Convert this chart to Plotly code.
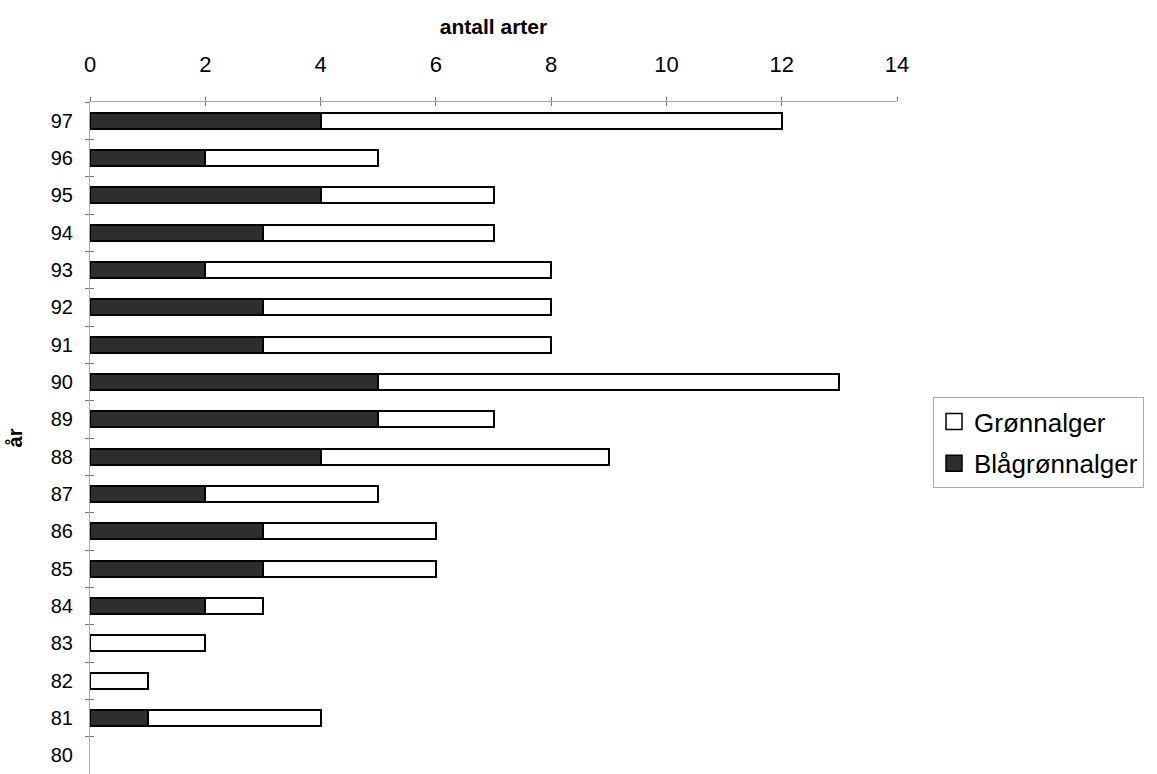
import plotly.graph_objects as go

years = ["80", "81", "82", "83", "84", "85", "86", "87", "88", "89",
         "90", "91", "92", "93", "94", "95", "96", "97"]
blagronn = [0, 1, 0, 0, 2, 3, 3, 2, 4, 5, 5, 3, 3, 2, 3, 4, 2, 4]
gronn = [0, 3, 1, 2, 1, 3, 3, 3, 5, 2, 8, 5, 5, 6, 4, 3, 3, 8]
x_ticks = [0, 2, 4, 6, 8, 10, 12, 14]

FONT = "Liberation Sans, Arial, sans-serif"
DARK = "#2e2e2e"


def outline(vals):
    # no outline for empty (zero-length) bars
    return [0 if v == 0 else 2 for v in vals]


fig = go.Figure()
fig.add_trace(go.Bar(
    y=years, x=blagronn, name="Blågrønnalger", orientation="h",
    marker=dict(color=DARK, line=dict(color="#000000", width=outline(blagronn))),
    showlegend=False,
))
fig.add_trace(go.Bar(
    y=years, x=gronn, name="Grønnalger", orientation="h",
    marker=dict(color="#ffffff", line=dict(color="#000000", width=outline(gronn))),
    showlegend=False,
))
# legend entries with larger square symbols (top to bottom)
fig.add_trace(go.Scatter(
    x=[None], y=[None], name="Grønnalger", mode="markers",
    legendgroup="g",
    marker=dict(symbol="square", size=16, color="#ffffff",
                line=dict(color="#000000", width=1.5)),
))
fig.add_trace(go.Scatter(
    x=[None], y=[None], name="Blågrønnalger", mode="markers",
    legendgroup="b",
    marker=dict(symbol="square", size=16, color=DARK,
                line=dict(color="#000000", width=1.5)),
))
# helper traces for crossing ticks
fig.add_trace(go.Scatter(x=[0], y=[0], xaxis="x2", yaxis="y2",
                         mode="markers", marker=dict(opacity=0),
                         showlegend=False, hoverinfo="skip"))
fig.add_trace(go.Scatter(x=[0], y=[0], xaxis="x2", yaxis="y3",
                         mode="markers", marker=dict(opacity=0),
                         showlegend=False, hoverinfo="skip"))

yrange = [-0.5, 17.5]
TICKC = "#777777"
fig.update_layout(
    width=1157, height=774,
    margin=dict(l=90, r=260, t=102, b=0),
    barmode="stack", bargap=0.57,
    paper_bgcolor="white", plot_bgcolor="white",
    font=dict(family=FONT, color="#000000", size=20),
    xaxis=dict(
        side="top", range=[0, 14], tickvals=x_ticks,
        ticks="outside", ticklen=4, tickcolor=TICKC, tickwidth=1,
        showline=True, linecolor="#aaaaaa", linewidth=1,
        showgrid=False, zeroline=False,
        tickfont=dict(size=22), ticklabelstandoff=16,
        title=dict(text="<b>antall arter</b>", font=dict(size=21), standoff=11),
    ),
    yaxis=dict(
        type="category", categoryorder="array", categoryarray=years,
        range=yrange,
        ticks="", showline=True, linecolor="#aaaaaa", linewidth=1,
        showgrid=False, zeroline=False,
        tickfont=dict(size=20), ticklabelstandoff=12,
        title=dict(text="<b>år</b>", font=dict(size=20), standoff=22),
    ),
    xaxis2=dict(overlaying="x", side="top", range=[0, 14], tickvals=x_ticks,
                ticks="inside", ticklen=4, tickcolor=TICKC,
                showticklabels=False, showline=False, showgrid=False,
                zeroline=False),
    yaxis2=dict(overlaying="y", range=[v - 0.5 for v in yrange],
                tickvals=list(range(0, 19)),
                ticks="inside", ticklen=4, tickcolor=TICKC,
                showticklabels=False, showline=False, showgrid=False,
                zeroline=False),
    yaxis3=dict(overlaying="y", range=[v - 0.5 for v in yrange],
                tickvals=list(range(0, 19)),
                ticks="outside", ticklen=4, tickcolor=TICKC,
                showticklabels=False, showline=False, showgrid=False,
                zeroline=False),
    legend=dict(
        x=(933 - 90) / 807, xanchor="left", y=(774 - 397) / 672, yanchor="top",
        traceorder="grouped",
        bordercolor="#aaaaaa", borderwidth=1, bgcolor="white",
        font=dict(size=26), itemwidth=30, tracegroupgap=5,
    ),
)

fig.write_html("out.html")
